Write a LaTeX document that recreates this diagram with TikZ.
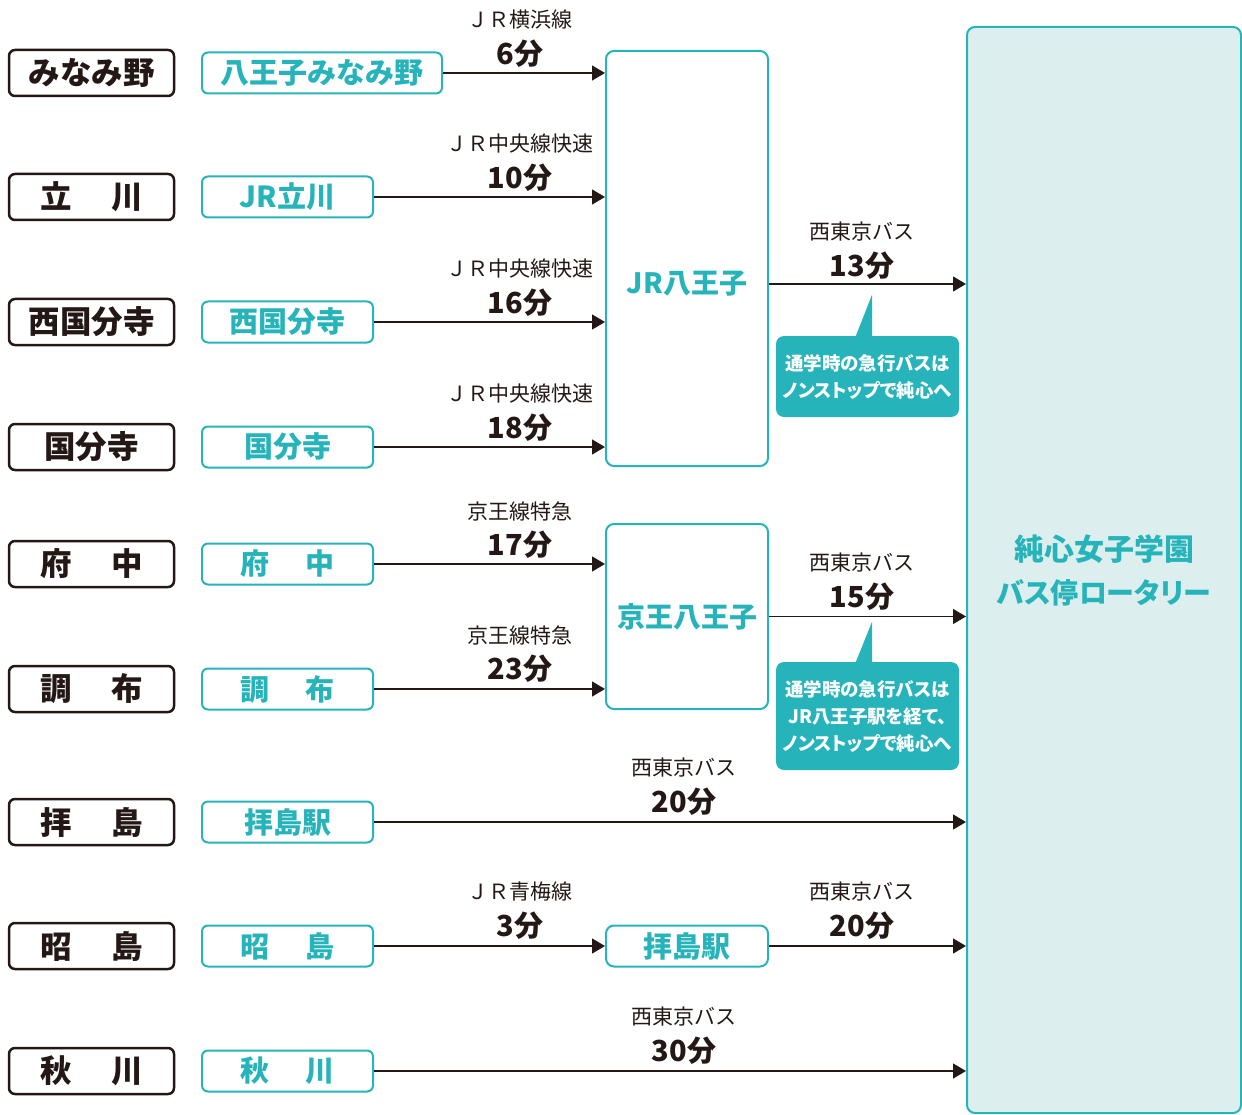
\documentclass[tikz,border=0pt]{standalone}
\usepackage{fontspec}
\usetikzlibrary{arrows.meta}
\newfontfamily\jp{Noto Sans CJK JP}
\newfontfamily\jpp{Noto Sans CJK JP}[RawFeature=+palt]
\definecolor{ink}{RGB}{35,24,21}
\definecolor{jteal}{RGB}{38,180,186}
\definecolor{paleteal}{RGB}{220,239,238}
\newcommand*{\fs}[1]{\fontsize{#1}{#1}\selectfont}
\newcommand*{\gap}{\hspace{1.25em}}

\begin{document}
\begin{tikzpicture}[x=1pt, y=-1pt,
    homebox/.style={draw=ink, line width=2.5pt, rounded corners=6pt, minimum width=165pt, minimum height=46pt, inner sep=0pt, text=ink, font=\jp\bfseries\fs{31.5}},
    stationbox/.style={draw=jteal, line width=2pt, rounded corners=6pt, minimum width=171pt, minimum height=41pt, inner sep=0pt, text=jteal, font=\jp\bfseries\fs{29}},
    hubbox/.style={draw=jteal, line width=2pt, rounded corners=8pt, minimum width=162pt, inner sep=0pt, text=jteal, font=\jp\bfseries\fs{28}},
    linename/.style={inner sep=0pt, text=ink, font=\jp\fs{21}},
    minutes/.style={inner sep=0pt, text=ink, font=\jp\bfseries\fs{29}},
    notebox/.style={fill=jteal, rounded corners=8pt, minimum width=183pt, inner sep=0pt, text=white, align=center, font=\jpp\bfseries\fontsize{18.5}{27}\selectfont},
    ride/.style={draw=ink, line width=1.4pt, -{Triangle[length=13pt, width=15pt]}}]
    \useasboundingbox (0,0) rectangle (1242,1115);
    % school
    \node[fill=paleteal, draw=jteal, line width=2pt, rounded corners=8pt, minimum width=274pt, minimum height=1086pt, text=jteal, align=center, font=\jpp\bfseries\fontsize{30}{43}\selectfont] (school) at (1104,570) {純心女子学園\\{\fontsize{28}{43}\selectfont バス停ロータリー}};
    % hubs
    \node[hubbox, minimum height=415pt] (jrHub) at (687,258.5) {};
    \node[text=jteal, font=\jp\bfseries\fs{28}, inner sep=0pt] (jrName) at (687,284) {JR八王子};
    \node[hubbox, minimum height=185pt] (keioHub) at (687,616.5) {京王八王子};
    \node[hubbox, minimum height=41pt, font=\jp\bfseries\fs{29}] (haijimaHub) at (687,946) {拝島駅};
    % first row
    \node[homebox] (minamiHome) at (91.5,73) {みなみ野};
    \node[stationbox, minimum width=240pt] (minamiSt) at (322,73) {八王子みなみ野};
    \draw[ride] (minamiSt.east) -- (minamiSt -| jrHub.west);
    \node[linename] (minamiLine) at (520,20) {ＪＲ横浜線};
    \node[minutes] (minamiTime) at (520,54) {6分};
    % second row
    \node[homebox] (tachiHome) at (91.5,197) {立\gap 川};
    \node[stationbox] (tachiSt) at (287.5,197) {JR立川};
    \draw[ride] (tachiSt.east) -- (tachiSt -| jrHub.west);
    \node[linename] (tachiLine) at (520,144) {ＪＲ中央線快速};
    \node[minutes] (tachiTime) at (520,178) {10分};
    % third row
    \node[homebox] (nishiHome) at (91.5,322) {西国分寺};
    \node[stationbox] (nishiSt) at (287.5,322) {西国分寺};
    \draw[ride] (nishiSt.east) -- (nishiSt -| jrHub.west);
    \node[linename] (nishiLine) at (520,269) {ＪＲ中央線快速};
    \node[minutes] (nishiTime) at (520,303) {16分};
    % fourth row
    \node[homebox] (kokuHome) at (91.5,447) {国分寺};
    \node[stationbox] (kokuSt) at (287.5,447) {国分寺};
    \draw[ride] (kokuSt.east) -- (kokuSt -| jrHub.west);
    \node[linename] (kokuLine) at (520,394) {ＪＲ中央線快速};
    \node[minutes] (kokuTime) at (520,428) {18分};
    % fifth row
    \node[homebox] (fuchuHome) at (91.5,564) {府\gap 中};
    \node[stationbox] (fuchuSt) at (287.5,564) {府\gap 中};
    \draw[ride] (fuchuSt.east) -- (fuchuSt -| keioHub.west);
    \node[linename] (fuchuLine) at (520,511) {京王線特急};
    \node[minutes] (fuchuTime) at (520,545) {17分};
    % sixth row
    \node[homebox] (chofuHome) at (91.5,689) {調\gap 布};
    \node[stationbox] (chofuSt) at (287.5,689) {調\gap 布};
    \draw[ride] (chofuSt.east) -- (chofuSt -| keioHub.west);
    \node[linename] (chofuLine) at (520,635) {京王線特急};
    \node[minutes] (chofuTime) at (520,669) {23分};
    % seventh row
    \node[homebox] (haijimaHome) at (91.5,822) {拝\gap 島};
    \node[stationbox] (haijimaSt) at (287.5,822) {拝島駅};
    \draw[ride] (haijimaSt.east) -- (haijimaSt -| school.west);
    \node[linename] (haijimaLine) at (684,768) {西東京バス};
    \node[minutes] (haijimaTime) at (684,802) {20分};
    % eighth row
    \node[homebox] (akiHome) at (91.5,946) {昭\gap 島};
    \node[stationbox] (akiSt) at (287.5,946) {昭\gap 島};
    \draw[ride] (akiSt.east) -- (haijimaHub.west);
    \node[linename] (akiLine) at (520,892) {ＪＲ青梅線};
    \node[minutes] (akiTime) at (520,926) {3分};
    \draw[ride] (haijimaHub.east) -- (haijimaHub -| school.west);
    \node[linename] (akiBus) at (862,892) {西東京バス};
    \node[minutes] (akiBusTime) at (862,926) {20分};
    % last row
    \node[homebox] (akigawaHome) at (91.5,1071) {秋\gap 川};
    \node[stationbox] (akigawaSt) at (287.5,1071) {秋\gap 川};
    \draw[ride] (akigawaSt.east) -- (akigawaSt -| school.west);
    \node[linename] (akigawaLine) at (684,1017) {西東京バス};
    \node[minutes] (akigawaTime) at (684,1051) {30分};
    % buses from the hubs
    \draw[ride] (jrName -| jrHub.east) -- (jrName -| school.west);
    \node[linename] (jrBus) at (862,232) {西東京バス};
    \node[minutes] (jrBusTime) at (862,266) {13分};
    \draw[ride] (keioHub.east) -- (keioHub -| school.west);
    \node[linename] (keioBus) at (862,563) {西東京バス};
    \node[minutes] (keioBusTime) at (862,597) {15分};
    % notes
    \node[notebox, minimum height=81pt] (jrNote) at (867.5,376.5) {通学時の急行バスは\\ノンストップで純心へ};
    \fill[jteal] ([xshift=-12pt, yshift=-1pt]jrNote.north) -- ([xshift=4.5pt, yshift=-1pt]jrNote.north) -- ([xshift=4.5pt, yshift=41pt]jrNote.north) -- cycle;
    \node[notebox, minimum height=108pt] (keioNote) at (867.5,716) {通学時の急行バスは\\JR八王子駅を経て、\\ノンストップで純心へ};
    \fill[jteal] ([xshift=-12pt, yshift=-1pt]keioNote.north) -- ([xshift=4.5pt, yshift=-1pt]keioNote.north) -- ([xshift=4.5pt, yshift=40pt]keioNote.north) -- cycle;
\end{tikzpicture}
\end{document}
